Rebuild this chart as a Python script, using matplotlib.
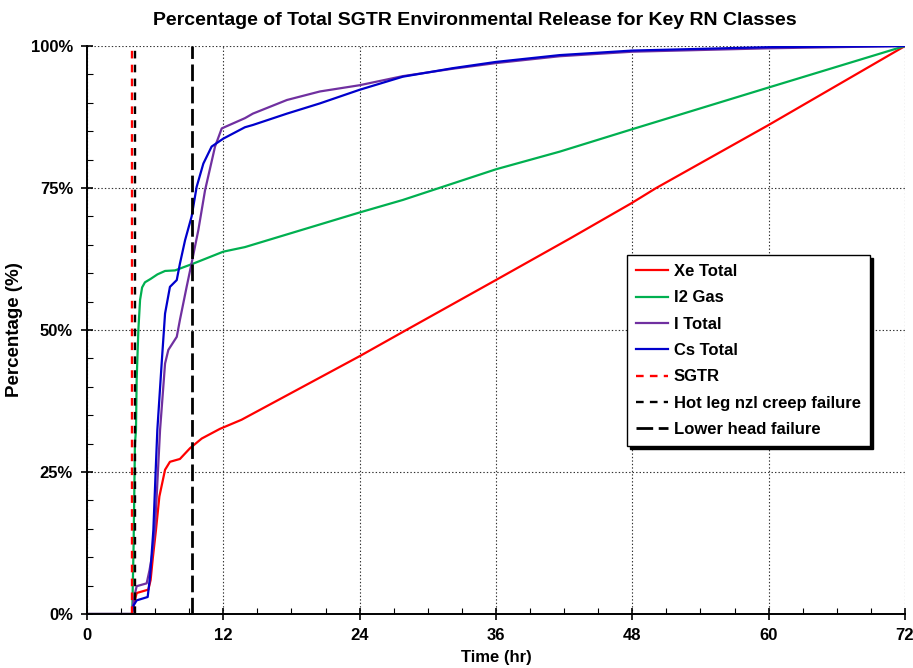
import matplotlib
matplotlib.use("Agg")
import matplotlib.pyplot as plt
from matplotlib.ticker import MultipleLocator, FuncFormatter

plt.rcParams["font.family"] = ["Liberation Sans", "DejaVu Sans"]
plt.rcParams["font.weight"] = "bold"
plt.rcParams["lines.scale_dashes"] = False

# release fractions (% of total) vs time (hr)
t_xe = [0, 3.95, 4.1, 4.37, 5.4, 5.6, 5.8, 6.07, 6.37, 6.87, 7.3, 8.18, 9.07, 10.1,
        11.7, 13.6, 24, 28.1, 35.9, 42.5, 47.9, 50.1, 60, 72]
xe_total = [0, 0, 1.5, 3.7, 4.3, 6, 10, 14.8, 20.7, 25.4, 26.8, 27.3, 29.2, 30.9,
            32.6, 34.2, 45.4, 50, 58.7, 66.1, 72.3, 75, 86.1, 100]

t_i2 = [0, 3.98, 4.1, 4.22, 4.31, 4.37, 4.52, 4.67, 4.85, 5.1, 5.6, 6.2, 6.87, 7.75,
        9.36, 12, 13.9, 24, 27.8, 36, 41.6, 47.9, 60, 72]
i2_gas = [0, 0, 12, 30, 32.4, 41.2, 50, 55.3, 57.5, 58.4, 59.0, 59.8, 60.4, 60.5,
          61.7, 63.8, 64.6, 70.7, 72.9, 78.3, 81.4, 85.3, 92.7, 100]

t_i = [0, 3.95, 4.1, 4.37, 5.25, 5.5, 5.7, 5.98, 6.28, 6.43, 6.87, 7.16, 7.9, 8.18,
       8.77, 9.2, 9.8, 10.39, 11.27, 11.86, 13.9, 14.6, 17.6, 20.5, 24, 27.8, 32.2,
       36, 41.6, 48, 60, 72]
i_total = [0, 0, 2.5, 4.9, 5.4, 7.7, 10, 14.8, 26.5, 32.4, 44.1, 46.5, 48.8, 51.8,
           57.6, 61.7, 67.6, 74.6, 82.3, 85.5, 87.3, 88.1, 90.5, 92, 93.1, 94.7, 96,
           97.0, 98.2, 99.0, 99.6, 100]

t_cs = [0, 3.95, 4.1, 4.37, 5.34, 5.55, 5.84, 6.07, 6.19, 6.57, 6.87, 7.3, 7.9, 8.18,
        8.63, 9.21, 9.65, 10.24, 10.97, 12.0, 13.9, 14.6, 17.6, 20.5, 24, 27.8, 32.2,
        36, 41.6, 48, 60, 72]
cs_total = [0, 0, 1.5, 2.4, 3.0, 6.6, 14.8, 26.5, 32.4, 44.1, 52.9, 57.6, 58.8, 61.7,
            65.8, 70, 75.2, 79.3, 82.3, 83.7, 85.7, 86.1, 88.1, 89.9, 92.3, 94.6, 96.1,
            97.2, 98.4, 99.2, 99.8, 100]

# event times (hr)
t_sgtr = 3.94
t_hot_leg = 4.24
t_lower_head = 9.2

x_ticks = [0, 12, 24, 36, 48, 60, 72]
y_ticks = [0, 25, 50, 75, 100]

fig = plt.figure(figsize=(9.13, 6.68), dpi=100)
ax = fig.add_axes([0.0953, 0.0808, 0.8959, 0.8503])

ax.plot(t_xe, xe_total, color="#FF0000", lw=1.6, label="Xe Total")
ax.plot(t_i2, i2_gas, color="#00B050", lw=1.6, label="I2 Gas")
ax.plot(t_i, i_total, color="#7030A0", lw=1.6, label="I Total")
ax.plot(t_cs, cs_total, color="#0000CC", lw=1.6, label="Cs Total")
ax.plot([t_sgtr, t_sgtr], [0, 100], color="#FF0000", lw=1.7,
        linestyle=(0, (5.5, 4.5)), label="SGTR")
ax.plot([t_hot_leg, t_hot_leg], [0, 100], color="black", lw=1.7,
        linestyle=(0, (5.5, 4.5)), label="Hot leg nzl creep failure")
ax.plot([t_lower_head, t_lower_head], [0, 100], color="black", lw=2.0,
        linestyle=(0, (12, 4)), label="Lower head failure")

ax.set_xlim(0, 72)
ax.set_ylim(0, 100)
ax.set_xticks(x_ticks)
ax.set_yticks(y_ticks)
ax.xaxis.set_minor_locator(MultipleLocator(3))
ax.yaxis.set_minor_locator(MultipleLocator(5))
ax.yaxis.set_major_formatter(FuncFormatter(lambda v, _: f"{v:.0f}%"))
ax.tick_params(which="major", direction="inout", length=8, width=1.2,
               labelsize=12, pad=6)
ax.tick_params(which="minor", direction="in", length=4, width=0.8)
for lab in ax.get_xticklabels() + ax.get_yticklabels():
    lab.set_fontweight("bold")

ax.grid(True, which="major", linestyle=(0, (1, 1.5)), color="#333333", lw=0.8)
ax.spines["top"].set_visible(False)
ax.spines["right"].set_visible(False)
ax.spines["left"].set_linewidth(1.4)
ax.spines["bottom"].set_linewidth(1.4)

ax.set_xlabel("Time (hr)", fontsize=12, fontweight="bold", labelpad=5)
ax.set_ylabel("Percentage (%)", fontsize=13.5, fontweight="bold", labelpad=6)
ax.set_title("Percentage of Total SGTR Environmental Release for Key RN Classes",
             fontsize=14, fontweight="bold", pad=15, x=0.474)

leg = ax.legend(loc="upper left", bbox_to_anchor=(0.650, 0.647),
                frameon=True, fancybox=False, edgecolor="black",
                shadow={"color": "black", "alpha": 1.0}, handlelength=1.9,
                labelspacing=0.68, borderpad=0.55, handletextpad=0.35,
                prop={"weight": "bold", "size": 12})
leg.get_frame().set_linewidth(1.0)

fig.savefig("out.png", dpi=100)
